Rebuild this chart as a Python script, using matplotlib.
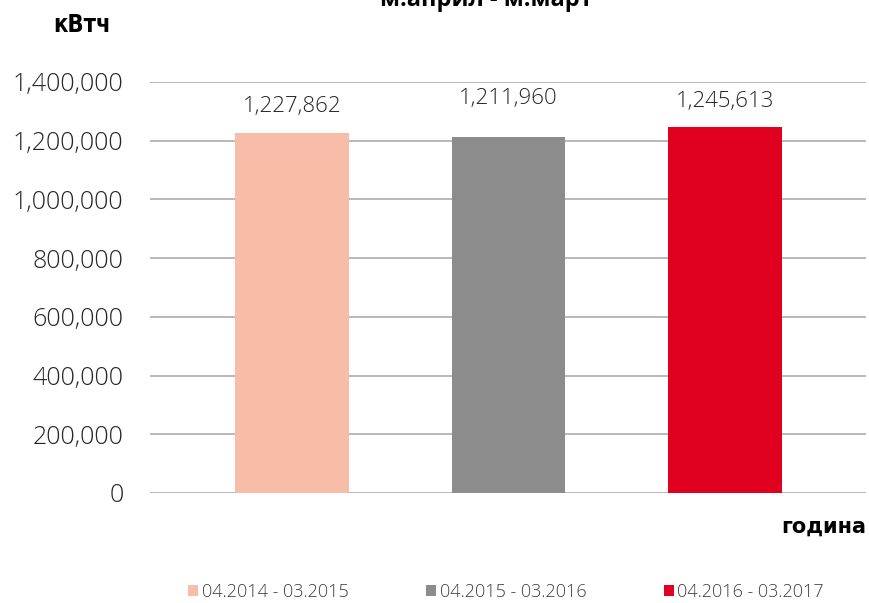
import matplotlib.pyplot as plt
from matplotlib.patches import Patch
from matplotlib.ticker import FuncFormatter

periods = ['04.2014 - 03.2015', '04.2015 - 03.2016', '04.2016 - 03.2017']
values = [1227862, 1211960, 1245613]
colors = ['#F8BDA8', '#8C8C8C', '#E0001F']
label_offsets = [26, 39, 26]  # pixels above bar top

plt.rcParams['font.family'] = ['Open Sans', 'DejaVu Sans']

fig = plt.figure(figsize=(8.69, 6.03), dpi=100)
ax = fig.add_axes([150 / 869, 110 / 603, 716 / 869, 411 / 603])

x = list(range(len(values)))
ax.bar(x, values, width=0.526, color=colors, zorder=2)
for xi, v, off in zip(x, values, label_offsets):
    ax.annotate(f'{v:,}', (xi, v), xytext=(0, off), textcoords='offset pixels',
                ha='center', va='center', fontsize=16, fontweight='light', color='#262626')

ax.set_xlim(-0.656, 2.651)
ax.set_ylim(0, 1400000)
ax.set_yticks(range(0, 1400001, 200000))
ax.yaxis.set_major_formatter(FuncFormatter(lambda v, p: f'{int(v):,}'))
ax.yaxis.grid(True, color='#A6A6A6', linewidth=1.1, zorder=0)
ax.set_xticks([])
ax.tick_params(axis='y', length=0, pad=19, labelsize=18, labelcolor='#262626')
for lbl in ax.get_yticklabels():
    lbl.set_fontweight('light')
for s in ax.spines.values():
    s.set_visible(False)

fig.text(486 / 869, 1 - 6 / 603, 'м.април - м.март', ha='center', va='baseline',
         fontsize=17, fontweight='bold')
fig.text(82 / 869, 1 - 32 / 603, 'кВтч', ha='center', va='baseline',
         fontsize=17, fontweight='bold', fontstretch='condensed', family=['DejaVu Sans'])
fig.text(866 / 869, 1 - 533 / 603, 'година', ha='right', va='baseline',
         fontsize=15, fontweight='bold', family=['DejaVu Sans'])

handles = [Patch(facecolor=c, edgecolor='none') for c in colors]
fig.legend(handles, periods, loc='center', bbox_to_anchor=(506 / 869, 11 / 603),
           ncol=3, frameon=False, handlelength=0.55, handleheight=0.55,
           handletextpad=0.2, columnspacing=4.3, labelcolor='#404040',
           prop={'size': 13, 'weight': 'light'})

fig.savefig('out.png', dpi=100)
